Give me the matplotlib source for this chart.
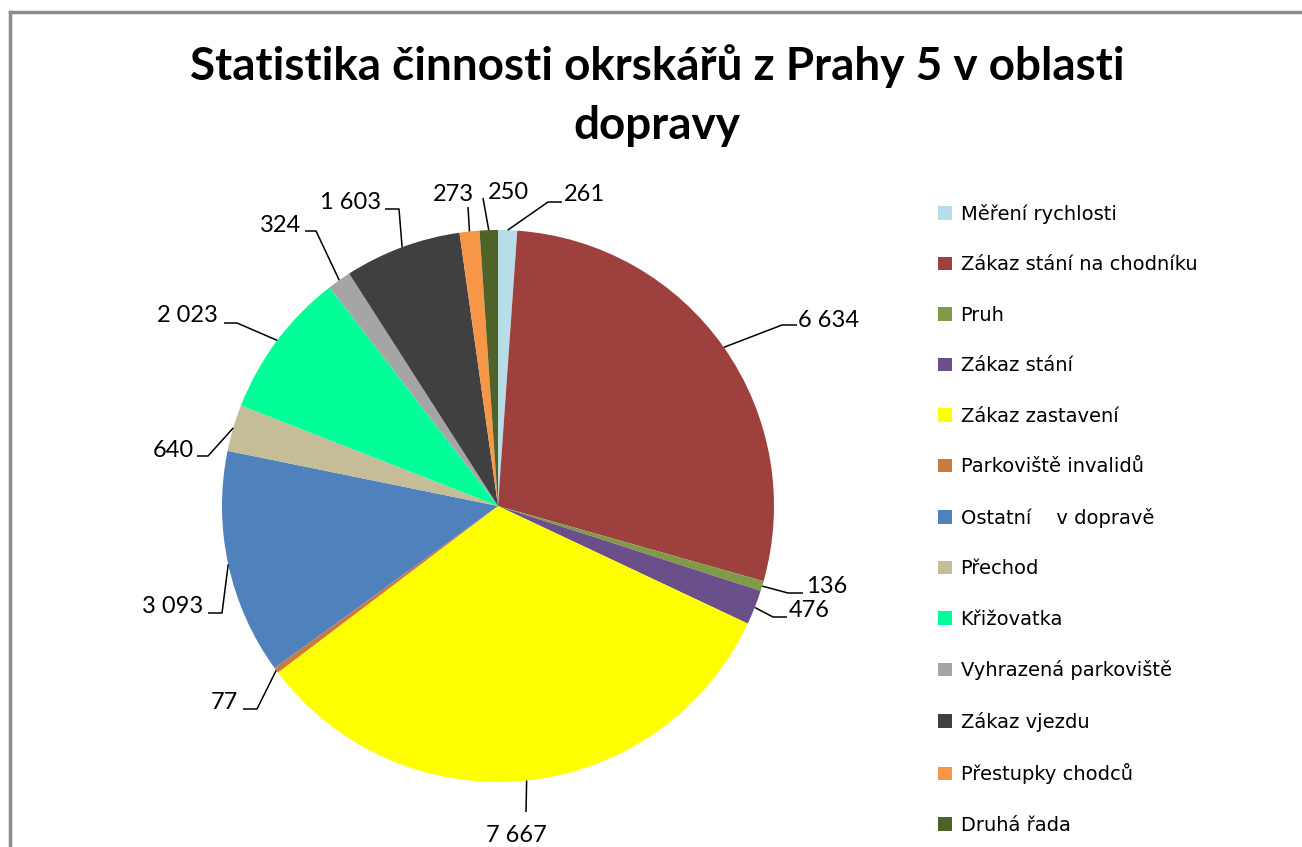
import numpy as np
import matplotlib
matplotlib.use("Agg")
import matplotlib.pyplot as plt

'''Pie chart: traffic activity statistics of Prague 5 beat officers.'''

categories = ["Měření rychlosti", "Zákaz stání na chodníku", "Pruh", "Zákaz stání",
              "Zákaz zastavení", "Parkoviště invalidů", "Ostatní    v dopravě", "Přechod",
              "Křižovatka", "Vyhrazená parkoviště", "Zákaz vjezdu", "Přestupky chodců",
              "Druhá řada"]
values = [261, 6634, 136, 476, 7667, 77, 3093, 640, 2023, 324, 1603, 273, 250]
value_labels = ["261", "6 634", "136", "476", "7 667", "77", "3 093", "640",
                "2 023", "324", "1 603", "273", "250"]
colors = ["#B7DDE8", "#9E413E", "#7F9B48", "#6A4F8A", "#FFFF00", "#CC7A3A", "#4F81BD",
          "#C4BD97", "#00FF99", "#A5A5A5", "#404040", "#F79646", "#4F6228"]

title = "Statistika činnosti okrskářů z Prahy 5 v oblasti\ndopravy"

# leader-line layout in pixels (top-down): elbow point, end point, text anchor, alignment
label_layout = [
    ((548, 202), (562, 202), (564, 201), "left"),
    ((782, 325), (797, 325), (798, 327), "left"),
    ((788, 593), (803, 593), (806, 593), "left"),
    ((773, 617), (787, 617), (789, 617), "left"),
    ((526, 812), (526, 812), (516, 842), "center"),
    ((257, 709), (243, 709), (238, 709), "right"),
    ((222, 613), (208, 613), (203, 613), "right"),
    ((208, 456), (197, 456), (194, 457), "right"),
    ((237, 323), (224, 323), (218, 322), "right"),
    ((316, 231), (305, 231), (301, 232), "right"),
    ((399, 209), (385, 209), (381, 209), "right"),
    ((468, 207), (468, 207), (474, 201), "right"),
    ((483, 198), (483, 198), (488, 199), "left"),
]

W, H = 1302, 847
cx, cy, R = 498, 847 - 506, 276

fig = plt.figure(figsize=(W / 100, H / 100), dpi=100)
ax = fig.add_axes([0, 0, 1, 1])

wedges, _ = ax.pie(values, colors=colors, startangle=90, counterclock=False,
                   center=(cx, cy), radius=R, wedgeprops=dict(linewidth=0))
ax.set_xlim(0, W)
ax.set_ylim(0, H)
ax.set_aspect("equal")
ax.axis("off")

for w, txt, (elbow, end, tpos, ha) in zip(wedges, value_labels, label_layout):
    mid = np.deg2rad((w.theta1 + w.theta2) / 2)
    ax_pt = (cx + R * np.cos(mid), cy + R * np.sin(mid))
    xs = [ax_pt[0], elbow[0], end[0]]
    ys = [ax_pt[1], H - elbow[1], H - end[1]]
    ax.plot(xs, ys, color="black", linewidth=1.1, solid_capstyle="butt")
    ax.text(tpos[0], H - tpos[1], txt, ha=ha, va="baseline", fontsize=17,
            family=["Lato", "DejaVu Sans"], color="black")

ax.text(657, H - 44, title, ha="center", va="top", fontsize=33, fontweight="bold",
        family=["Lato", "DejaVu Sans"], linespacing=1.5)

leg = ax.legend(wedges, categories, loc="upper left", bbox_to_anchor=(930 / W, 1 - 196 / H),
                bbox_transform=fig.transFigure, frameon=False,
                prop=dict(family="DejaVu Sans", size=14),
                handlelength=0.72, handleheight=0.7, handletextpad=0.45,
                labelspacing=1.62, borderaxespad=0)

# grey chart-area frame (top and left edge visible)
ax.plot([10, W], [H - 12, H - 12], color="#8C8C8C", linewidth=2.5, clip_on=False)
ax.plot([10, 10], [H - 12, 0], color="#8C8C8C", linewidth=2.5, clip_on=False)

fig.savefig("out.png", dpi=100)
